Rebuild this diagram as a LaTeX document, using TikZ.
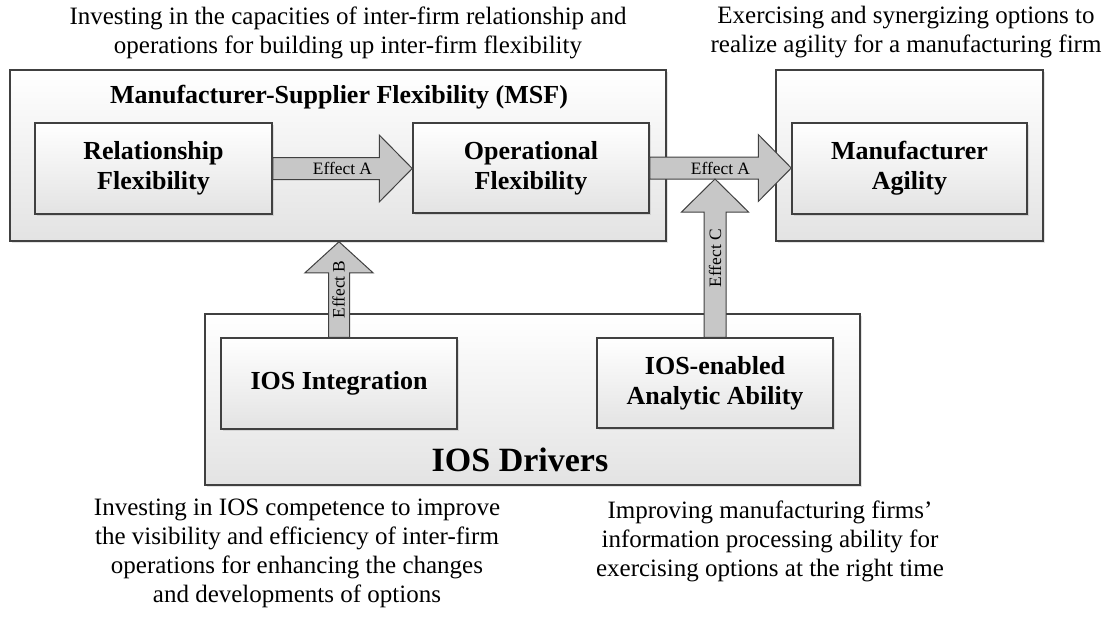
\documentclass[tikz,border=0pt]{standalone}
\usepackage{fontspec}
\setmainfont{Liberation Serif}
\usepackage{tikz}
\usetikzlibrary{calc}
\usetikzlibrary{positioning}
\usetikzlibrary{shadows}
\tikzset{>=latex}
\tikzstyle{outer} = [rectangle, draw=black!75, line width=0.75pt, top color=white, bottom color=black!11, drop shadow={shadow xshift=1.2pt, shadow yshift=-1.2pt, opacity=0.22}]
\tikzstyle{inner} = [outer, align=center, font=\fontsize{13}{15}\selectfont\bfseries]
\tikzstyle{effarrow} = [draw=black!75, line width=0.5pt, fill=black!22, line join=miter]
\tikzstyle{efflabel} = [inner sep=0pt, font=\fontsize{8.7}{10}\selectfont]
\tikzstyle{note} = [align=center, inner sep=0pt, font=\fontsize{12.5}{14.5}\selectfont]

\begin{document}
\begin{tikzpicture}[x=0.5pt, y=-0.5pt]
\useasboundingbox (0,0) rectangle (1117,617);

% group boxes
\node [outer, minimum width=328pt, minimum height=85.5pt] (msf) at (338, 155.5) {};
\node [outer, minimum width=133.5pt, minimum height=85.5pt] (aglbox) at (909.5, 155.5) {};
\node [outer, minimum width=327.5pt, minimum height=85.5pt] (drv) at (532.5, 399.5) {};

% constructs
\node [inner, minimum width=118.5pt, minimum height=45.5pt] (rel) at (153.5, 168.5) {Relationship\\Flexibility};
\node [inner, minimum width=118pt, minimum height=45pt] (opr) at (531, 168) {Operational\\Flexibility};
\node [inner, minimum width=117.5pt, minimum height=45.5pt] (agl) at (909.5, 168.5) {Manufacturer\\Agility};
\node [inner, minimum width=118pt, minimum height=45.5pt] (integ) at (339, 383.5) {IOS Integration};
\node [inner, minimum width=118pt, minimum height=45pt] (anal) at (715, 383) {IOS-enabled\\Analytic Ability};

\node [inner sep=0pt, font=\fontsize{13}{15}\selectfont\bfseries] (msftitle) at (339, 97) {Manufacturer-Supplier Flexibility (MSF)};
\node [inner sep=0pt, font=\fontsize{17}{20}\selectfont\bfseries] (drvtitle) at (520, 460) {IOS Drivers};

% effect arrows
\coordinate (ctip) at ($(anal.north |- opr.east)+(0,11)$);
\draw [effarrow] let \p1 = (rel.east), \p2 = (opr.west) in
  (\x1, \y1-5.5pt) -- (\x2-16.5pt, \y1-5.5pt) -- (\x2-16.5pt, \y1-16.75pt) -- (\x2, \y1)
  -- (\x2-16.5pt, \y1+16.75pt) -- (\x2-16.5pt, \y1+5.5pt) -- (\x1, \y1+5.5pt) -- cycle;
\draw [effarrow] let \p1 = (opr.east), \p2 = (agl.west) in
  (\x1, \y1-5.5pt) -- (\x2-16.5pt, \y1-5.5pt) -- (\x2-16.5pt, \y1-16.75pt) -- (\x2, \y1)
  -- (\x2-16.5pt, \y1+16.75pt) -- (\x2-16.5pt, \y1+5.5pt) -- (\x1, \y1+5.5pt) -- cycle;
\draw [effarrow] let \p1 = (integ.north), \p2 = (msf.south) in
  (\x1-5.25pt, \y1) -- (\x1-5.25pt, \y2-15.5pt) -- (\x1-17pt, \y2-15.5pt) -- (\x1, \y2)
  -- (\x1+17pt, \y2-15.5pt) -- (\x1+5.25pt, \y2-15.5pt) -- (\x1+5.25pt, \y1) -- cycle;
\draw [effarrow] let \p1 = (anal.north), \p2 = (ctip) in
  (\x1-5.5pt, \y1) -- (\x1-5.5pt, \y2-16.5pt) -- (\x1-16.75pt, \y2-16.5pt) -- (\x1, \y2)
  -- (\x1+16.75pt, \y2-16.5pt) -- (\x1+5.5pt, \y2-16.5pt) -- (\x1+5.5pt, \y1) -- cycle;

\node [efflabel] at ($(rel.east)!0.5!(opr.west)$) {Effect A};
\node [efflabel] at ($(opr.east)!0.5!(agl.west)$) {Effect A};
\node [efflabel, rotate=90] at ($(integ.north)!0.5!(msf.south)$) {Effect B};
\node [efflabel, rotate=90] at ($(anal.north)!0.5!(ctip)$) {Effect C};

% explanations
\node [note] (msfnote) at (348, 32.5) {Investing in the capacities of inter-firm relationship and\\operations for building up inter-firm flexibility};
\node [note] (aglnote) at (906, 32.5) {Exercising and synergizing options to\\realize agility for a manufacturing firm};
\node [note] (integnote) at (297, 553.5) {Investing in IOS competence to improve\\the visibility and efficiency of inter-firm\\operations for enhancing the changes\\and developments of options};
\node [note] (analnote) at (770, 541) {Improving manufacturing firms'\\information processing ability for\\exercising options at the right time};
\end{tikzpicture}
\end{document}
